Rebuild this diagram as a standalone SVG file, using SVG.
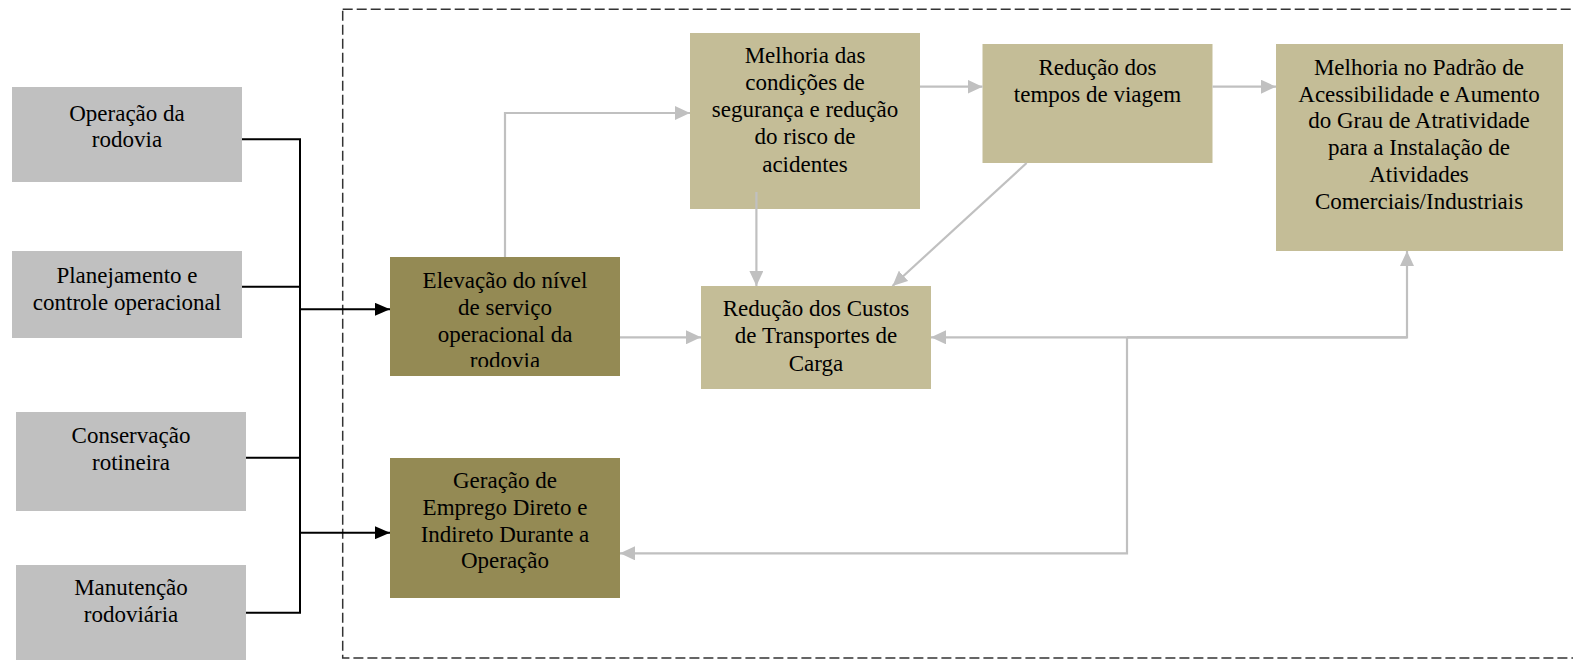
<svg xmlns="http://www.w3.org/2000/svg" width="1573" height="660" viewBox="0 0 1573 660">
  <style>
    .txt { font-family: "Liberation Serif", "Times New Roman", serif; font-size: 23px; fill: #000; text-anchor: middle; }
    .gray { fill: #C0C0C0; }
    .dark { fill: #948A54; }
    .light { fill: #C4BD97; }
    .cg { fill: none; stroke: #C0C0C0; stroke-width: 2.2; }
    .cb { fill: none; stroke: #000; stroke-width: 2; }
    .frame { fill: none; stroke: #333; stroke-width: 1.5; stroke-dasharray: 10 4; }
  </style>
  <defs>
    <marker id="ag" viewBox="0 0 15 14" refX="15" refY="7" markerWidth="15" markerHeight="14" markerUnits="userSpaceOnUse" orient="auto">
      <path d="M0,0 L15,7 L0,14 z" fill="#C0C0C0"/>
    </marker>
    <marker id="ab" viewBox="0 0 15 13" refX="15" refY="6.5" markerWidth="15" markerHeight="13" markerUnits="userSpaceOnUse" orient="auto">
      <path d="M0,0 L15,6.5 L0,13 z" fill="#000"/>
    </marker>
    <clipPath id="clipElev">
      <rect x="390" y="257" width="230" height="110"/>
    </clipPath>
  </defs>

  <rect class="frame" x="342.7" y="9.3" width="1240" height="648.7"/>

  <g id="operacao">
    <rect class="gray" x="12" y="87" width="230" height="95"/>
    <text class="txt"><tspan x="127" y="120.5">Operação da</tspan><tspan x="127" y="146.5">rodovia</tspan></text>
  </g>
  <g id="planejamento">
    <rect class="gray" x="12" y="251" width="230" height="87"/>
    <text class="txt"><tspan x="127" y="283">Planejamento e</tspan><tspan x="127" y="309.5">controle operacional</tspan></text>
  </g>
  <g id="conservacao">
    <rect class="gray" x="16" y="412" width="230" height="99"/>
    <text class="txt"><tspan x="131" y="443.3">Conservação</tspan><tspan x="131" y="470">rotineira</tspan></text>
  </g>
  <g id="manutencao">
    <rect class="gray" x="16" y="565" width="230" height="100"/>
    <text class="txt"><tspan x="131" y="595">Manutenção</tspan><tspan x="131" y="621.7">rodoviária</tspan></text>
  </g>

  <g id="elevacao">
    <rect class="dark" x="390" y="257" width="230" height="119"/>
    <text class="txt" clip-path="url(#clipElev)"><tspan x="505" y="287.7">Elevação do nível</tspan><tspan x="505" y="315">de serviço</tspan><tspan x="505" y="341.7">operacional da</tspan><tspan x="505" y="368.3">rodovia</tspan></text>
  </g>
  <g id="geracao">
    <rect class="dark" x="390" y="458" width="230" height="140"/>
    <text class="txt"><tspan x="505" y="488.3">Geração de</tspan><tspan x="505" y="515">Emprego Direto e</tspan><tspan x="505" y="541.7">Indireto Durante a</tspan><tspan x="505" y="568.3">Operação</tspan></text>
  </g>
  <g id="seguranca">
    <rect class="light" x="690" y="33" width="230" height="176"/>
    <text class="txt"><tspan x="805" y="63.3">Melhoria das</tspan><tspan x="805" y="90">condições de</tspan><tspan x="805" y="117.3">segurança e redução</tspan><tspan x="805" y="144.3">do risco de</tspan><tspan x="805" y="171.7">acidentes</tspan></text>
  </g>
  <g id="custos">
    <rect class="light" x="701" y="286" width="230" height="103"/>
    <text class="txt"><tspan x="816" y="316">Redução dos Custos</tspan><tspan x="816" y="343.3">de Transportes de</tspan><tspan x="816" y="370.7">Carga</tspan></text>
  </g>
  <g id="tempos">
    <rect class="light" x="982.5" y="44" width="230" height="119"/>
    <text class="txt"><tspan x="1097.5" y="75">Redução dos</tspan><tspan x="1097.5" y="101.7">tempos de viagem</tspan></text>
  </g>
  <g id="acessibilidade">
    <rect class="light" x="1276" y="44" width="287" height="207"/>
    <text class="txt"><tspan x="1419" y="75">Melhoria no Padrão de</tspan><tspan x="1419" y="101.7">Acessibilidade e Aumento</tspan><tspan x="1419" y="128.3">do Grau de Atratividade</tspan><tspan x="1419" y="155">para a Instalação de</tspan><tspan x="1419" y="182.3">Atividades</tspan><tspan x="1419" y="209">Comerciais/Industriais</tspan></text>
  </g>

  <g id="connectors">
    <path class="cb" d="M242,139.3 H300 M242,286.7 H300 M246,457.7 H300 M246,612.7 H300 M300,138.3 V613.7"/>
    <path class="cb" d="M300,309.3 H390" marker-end="url(#ab)"/>
    <path class="cb" d="M300,532.7 H390" marker-end="url(#ab)"/>

    <path class="cg" d="M505,257 V113 H690" marker-end="url(#ag)"/>
    <path class="cg" d="M756.4,192 V286" marker-end="url(#ag)"/>
    <path class="cg" d="M620,337.3 H701" marker-end="url(#ag)"/>
    <path class="cg" d="M920,86.7 H982.5" marker-end="url(#ag)"/>
    <path class="cg" d="M1212.5,86.7 H1276" marker-end="url(#ag)"/>
    <path class="cg" d="M1026.6,163 L892.5,286" marker-end="url(#ag)"/>
    <path class="cg" d="M1407,337.3 H931" marker-end="url(#ag)"/>
    <path class="cg" d="M1127,337.3 H1407 V251" marker-end="url(#ag)"/>
    <path class="cg" d="M1127,337.3 V553.3 H620" marker-end="url(#ag)"/>
  </g>
</svg>
